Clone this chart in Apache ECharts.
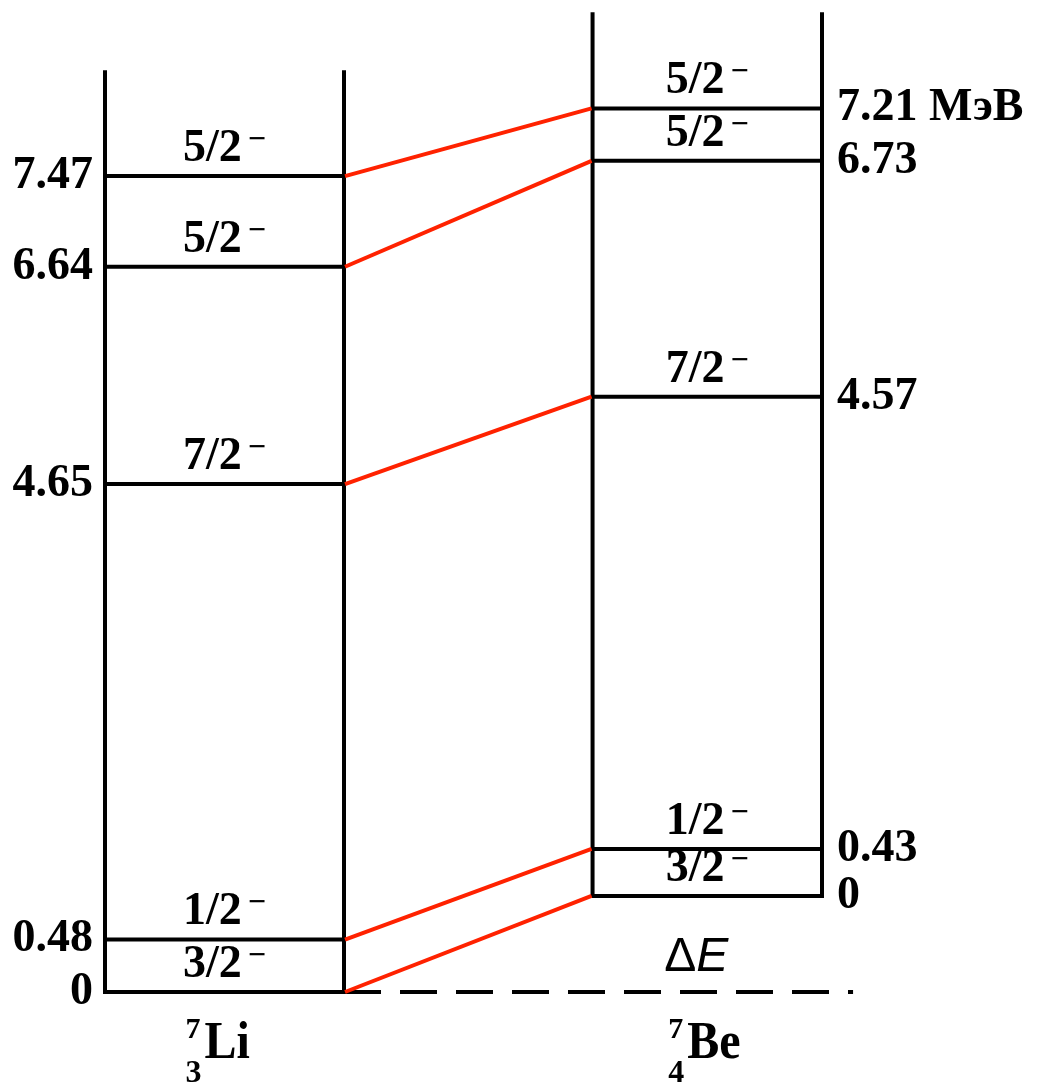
<!DOCTYPE html>
<html>
<head>
<meta charset="utf-8">
<script src="https://cdn.jsdelivr.net/npm/echarts@6/dist/echarts.min.js"></script>
<style>
  html, body { margin: 0; padding: 0; background: #fff; }
  #chart { width: 1040px; height: 1085px; }
</style>
</head>
<body>
<div id="chart"></div>
<script>
// Energy levels (MeV) of the mirror nuclei 7Li and 7Be
const LI_LEVELS = [0, 0.48, 4.65, 6.64, 7.47];
const LI_SPINS  = ['3/2', '1/2', '7/2', '5/2', '5/2'];
const BE_LEVELS = [0, 0.43, 4.57, 6.73, 7.21];
const BE_SPINS  = ['3/2', '1/2', '7/2', '5/2', '5/2'];
const LI_ENERGY_TEXT = ['0', '0.48', '4.65', '6.64', '7.47'];
const BE_ENERGY_TEXT = ['0', '0.43', '4.57', '6.73', '7.21'];
const UNIT = 'МэВ';
// 7Be ground state lies above the 7Li ground state by ΔE
const DELTA_E = 0.88;
// height of each level column above its own ground state, MeV
const LI_COLUMN_TOP = 8.44;
const BE_COLUMN_TOP = 8.09;
const NUCLEI = [
  { A: '7', Z: '3', symbol: 'Li' },
  { A: '7', Z: '4', symbol: 'Be' }
];

// horizontal layout of the two level columns (x-axis units)
const COLS = [[0, 1], [2.04, 3]];
const DASH_END = 3.13;

const SERIF = '"Liberation Serif", "Times New Roman", serif';
const LINE_W = 4;
const BLACK = '#000';
const RED = '#ff2200';
const FS = 46;

const chart = echarts.init(document.getElementById('chart'));

function hLine(api, xa, xb, e, style) {
  const p0 = api.coord([xa, e]);
  const p1 = api.coord([xb, e]);
  return { type: 'line', shape: { x1: p0[0], y1: p0[1], x2: p1[0], y2: p1[1] }, style };
}

// spin-parity label: "J" followed by a raised minus sign
function spinText(x, y, spin) {
  return {
    type: 'text', x, y,
    style: {
      text: '{n|' + spin + '}{m|−}',
      align: 'center', verticalAlign: 'middle',
      rich: {
        n: { fontFamily: SERIF, fontWeight: 'bold', fontSize: FS, lineHeight: FS, fill: BLACK },
        m: { fontFamily: SERIF, fontWeight: 'bold', fontSize: 32, lineHeight: 6, padding: [0, 0, 17, 6], fill: BLACK }
      }
    }
  };
}

function levelSeries(levels, spins, texts, col, offset, side) {
  return {
    type: 'custom',
    clip: false,
    data: levels.map(e => [e + offset]),
    renderItem(params, api) {
      const i = params.dataIndex;
      const e = api.value(0);
      const line = hLine(api, COLS[col][0], COLS[col][1], e, { stroke: BLACK, lineWidth: LINE_W });
      const left = api.coord([COLS[col][0], e]);
      const right = api.coord([COLS[col][1], e]);
      const cx = (left[0] + right[0]) / 2;
      let txt = texts[i];
      if (side === 'right' && i === levels.length - 1) txt += ' ' + UNIT;
      const energy = {
        type: 'text',
        x: side === 'left' ? left[0] - 12 : right[0] + 15,
        y: left[1],
        style: {
          text: txt,
          font: 'bold ' + FS + 'px ' + SERIF,
          fill: BLACK,
          align: side === 'left' ? 'right' : 'left',
          verticalAlign: 'middle'
        }
      };
      return { type: 'group', children: [line, spinText(cx, left[1] - 27, spins[i]), energy] };
    }
  };
}

const option = {
  backgroundColor: '#fff',
  animation: false,
  grid: { left: 105, right: 218, top: 9, bottom: 93 },
  xAxis: { type: 'value', min: 0, max: 3, show: false },
  yAxis: { type: 'value', min: 0, max: 9, show: false },
  series: [
    // column walls
    {
      type: 'custom',
      clip: false,
      data: [
        [COLS[0][0], 0, LI_COLUMN_TOP],
        [COLS[0][1], 0, LI_COLUMN_TOP],
        [COLS[1][0], DELTA_E, DELTA_E + BE_COLUMN_TOP],
        [COLS[1][1], DELTA_E, DELTA_E + BE_COLUMN_TOP]
      ],
      renderItem(params, api) {
        const p0 = api.coord([api.value(0), api.value(1)]);
        const p1 = api.coord([api.value(0), api.value(2)]);
        return { type: 'line', shape: { x1: p0[0], y1: p0[1] + LINE_W / 2, x2: p1[0], y2: p1[1] },
                 style: { stroke: BLACK, lineWidth: LINE_W } };
      }
    },
    // 7Li ground level extended as dashed reference line with ΔE label
    {
      type: 'custom',
      clip: false,
      data: [[0]],
      renderItem(params, api) {
        const e = api.value(0);
        const dash = hLine(api, COLS[0][1], DASH_END, e, { stroke: BLACK, lineWidth: LINE_W, lineDash: [37, 19] });
        const bl = api.coord([COLS[1][0], e]);
        const br = api.coord([COLS[1][1], e]);
        const label = {
          type: 'text',
          x: (bl[0] + br[0]) / 2 - 11,
          y: bl[1] - 34,
          style: {
            text: '{d|Δ}{e|E}',
            align: 'center', verticalAlign: 'middle',
            rich: {
              d: { fontFamily: '"Liberation Sans", Arial, sans-serif', fontSize: 48, fill: BLACK },
              e: { fontFamily: '"Liberation Sans", Arial, sans-serif', fontSize: 48, fontStyle: 'italic', fill: BLACK }
            }
          }
        };
        return { type: 'group', children: [dash, label] };
      }
    },
    // analogue-state connectors
    {
      type: 'custom',
      clip: false,
      data: LI_LEVELS.map((e, i) => [e, BE_LEVELS[i] + DELTA_E]),
      renderItem(params, api) {
        const p0 = api.coord([COLS[0][1], api.value(0)]);
        const p1 = api.coord([COLS[1][0], api.value(1)]);
        return { type: 'line', shape: { x1: p0[0] + 1, y1: p0[1], x2: p1[0] - 1, y2: p1[1] },
                 style: { stroke: RED, lineWidth: LINE_W } };
      }
    },
    levelSeries(LI_LEVELS, LI_SPINS, LI_ENERGY_TEXT, 0, 0, 'left'),
    levelSeries(BE_LEVELS, BE_SPINS, BE_ENERGY_TEXT, 1, DELTA_E, 'right'),
    // nucleus names under the columns
    {
      type: 'custom',
      clip: false,
      data: [[0], [1]],
      renderItem(params, api) {
        const n = NUCLEI[params.dataIndex];
        const col = COLS[params.dataIndex];
        const base = api.coord([(col[0] + col[1]) / 2, 0]);
        const sx = base[0] - 20;
        const y = base[1];
        return {
          type: 'group',
          children: [
            { type: 'text', x: sx, y: y + 52, scaleY: 1.12,
              style: { text: n.symbol, font: 'bold 48px ' + SERIF, fill: BLACK, align: 'left', verticalAlign: 'middle' } },
            { type: 'text', x: sx - 4, y: y + 38,
              style: { text: n.A, font: 'bold 30px ' + SERIF, fill: BLACK, align: 'right', verticalAlign: 'middle' } },
            { type: 'text', x: sx - 3, y: y + 82,
              style: { text: n.Z, font: 'bold 32px ' + SERIF, fill: BLACK, align: 'right', verticalAlign: 'middle' } }
          ]
        };
      }
    }
  ]
};

chart.setOption(option);
</script>
</body>
</html>
